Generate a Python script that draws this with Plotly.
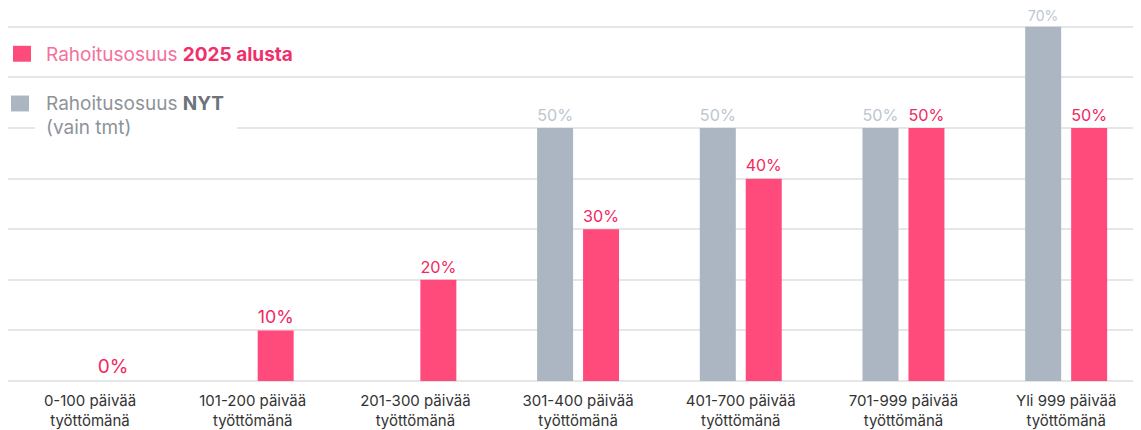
import plotly.graph_objects as go

# Data
categories = ["0-100 päivää<br>työttömänä", "101-200 päivää<br>työttömänä",
              "201-300 päivää<br>työttömänä", "301-400 päivää<br>työttömänä",
              "401-700 päivää<br>työttömänä", "701-999 päivää<br>työttömänä",
              "Yli 999 päivää<br>työttömänä"]
share_now = [None, None, None, 50, 50, 50, 70]      # Rahoitusosuus NYT (vain tmt)
share_2025 = [0, 10, 20, 30, 40, 50, 50]            # Rahoitusosuus 2025 alusta

PINK = "#ff4b7b"
PINK_TEXT = "#f0285f"
GRAY = "#abb6c2"
GRAY_TEXT = "#bcc6d0"
FONT = "Inter, Roboto, sans-serif"

# page body has an 8px margin, so the figure starts at (8, 8) in the window
W, H = 1133, 422
BASE = 383  # baseline in window pixels


def px(x):
    return (x - 8) / W


def py(y):
    return (BASE - y) / (BASE - 8)


fig = go.Figure()
fig.add_trace(go.Bar(
    x=list(range(len(categories))), y=share_now, marker_color=GRAY, marker_line_width=0,
    text=[f"{v}%" if v is not None else "" for v in share_now],
    textposition="outside",
    # tallest label sits right at the top edge, so it gets a smaller size
    textfont=dict(color=GRAY_TEXT, size=[19 if v != max(share_now[3:]) else 14 for v in share_now],
                  family=FONT),
    cliponaxis=False, hoverinfo="skip"))
fig.add_trace(go.Bar(
    x=list(range(len(categories))), y=share_2025, marker_color=PINK, marker_line_width=0,
    text=[f"{v}%" for v in share_2025],
    textposition="outside", textfont=dict(color=PINK_TEXT, size=19, family=FONT),
    cliponaxis=False, hoverinfo="skip"))

shapes = [
    # legend squares
    dict(type="rect", xref="paper", yref="paper", x0=px(13), x1=px(31), y0=py(62), y1=py(46),
         fillcolor=PINK, line_width=0, layer="above"),
    dict(type="rect", xref="paper", yref="paper", x0=px(11), x1=px(29), y0=py(112), y1=py(96),
         fillcolor=GRAY, line_width=0, layer="above"),
    # gap in gridline behind legend text
    dict(type="rect", xref="paper", yref="paper", x0=px(35), x1=px(237), y0=py(134), y1=py(124),
         fillcolor="white", line_width=0, layer="above"),
]

annotations = [
    dict(xref="paper", yref="paper", x=px(44), y=py(55), xanchor="left", yanchor="middle",
         showarrow=False, align="left",
         text="<span style='color:#f5719a'>Rahoitusosuus </span><b>2025 alusta</b>",
         font=dict(size=19, color="#f0306a", family=FONT)),
    dict(xref="paper", yref="paper", x=px(44), y=py(104), xanchor="left", yanchor="middle",
         showarrow=False, align="left",
         text="<span style='color:#8e939a'>Rahoitusosuus </span><b>NYT</b>",
         font=dict(size=19, color="#6e737a", family=FONT)),
    dict(xref="paper", yref="paper", x=px(44), y=py(128), xanchor="left", yanchor="middle",
         showarrow=False, align="left", text="(vain tmt)",
         font=dict(size=19, color="#8e939a", family=FONT)),
]

fig.update_layout(
    width=W, height=H,
    margin=dict(l=0, r=0, t=0, b=H - (BASE - 8)),
    paper_bgcolor="white", plot_bgcolor="white",
    barmode="group", bargap=0.435, bargroupgap=0.217,
    showlegend=False,
    font=dict(family=FONT, color="#333333"),
    shapes=shapes, annotations=annotations,
    xaxis=dict(range=[-0.504, 6.46], tickmode="array", tickvals=list(range(len(categories))),
               ticktext=categories, tickfont=dict(size=15, color="#333333", family=FONT),
               ticklabelstandoff=9,
               showgrid=False, zeroline=False, showline=False, ticks=""),
    yaxis=dict(range=[0, 73.73], dtick=10, showgrid=True, gridcolor="#e6e6e6", gridwidth=2,
               zeroline=True, zerolinecolor="#e6e6e6", zerolinewidth=2,
               showticklabels=False, ticks=""),
)

fig.write_html("out.html")
